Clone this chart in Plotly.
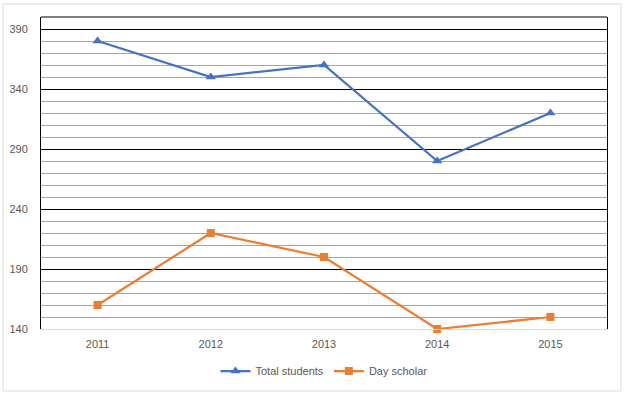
import plotly.graph_objects as go

years = ["2011", "2012", "2013", "2014", "2015"]
total_students = [380, 350, 360, 280, 320]
day_scholar = [160, 220, 200, 140, 150]
y_ticks = [140, 190, 240, 290, 340, 390]

fig = go.Figure()
fig.add_trace(go.Scatter(
    x=years, y=total_students, name="Total students", mode="lines+markers",
    line=dict(color="#4472C4", width=2.25),
    marker=dict(symbol="triangle-up", size=9, color="#4472C4"),
    cliponaxis=False,
))
fig.add_trace(go.Scatter(
    x=years, y=day_scholar, name="Day scholar", mode="lines+markers",
    line=dict(color="#ED7D31", width=2.25),
    marker=dict(symbol="square", size=8, color="#ED7D31"),
    cliponaxis=False,
))

font_family = "Liberation Sans, Arial, sans-serif"

fig.update_layout(
    width=626, height=394,
    margin=dict(l=41, r=19, t=17, b=65, autoexpand=False),
    paper_bgcolor="white", plot_bgcolor="white",
    font=dict(family=font_family, size=11, color="#595959"),
    showlegend=True,
    legend=dict(orientation="h", x=0.5, xanchor="center",
                yref="container", y=(394 - 371) / 394, yanchor="middle",
                font=dict(size=11, color="#595959"), itemwidth=30),
    xaxis=dict(
        type="category", range=[-0.5, 4.5], automargin=False,
        showgrid=False, showline=True, linecolor="#D9D9D9", linewidth=1,
        ticks="", tickfont=dict(size=11, color="#595959"), ticklabelstandoff=5,
        layer="above traces",
    ),
    yaxis=dict(
        range=[140, 400], tickvals=y_ticks, automargin=False,
        showgrid=True, gridcolor="#000000", gridwidth=1,
        minor=dict(dtick=10, tick0=140, showgrid=True, gridcolor="#A6A6A6", gridwidth=1),
        showline=True, mirror=True, linecolor="#000000", linewidth=1,
        ticks="", zeroline=False, tickfont=dict(size=11, color="#595959"),
        ticklabelstandoff=10,
    ),
    shapes=[
        dict(type="line", xref="paper", yref="paper", x0=0, x1=1, y0=1, y1=1,
             line=dict(color="#000000", width=1)),
        dict(type="rect", xref="paper", yref="paper", x0=-0.0671, x1=1.0247,
             y0=-0.1987, y1=1.0417, line=dict(color="#D9D9D9", width=1), layer="below"),
    ],
)

fig.write_html("out.html", config={"displayModeBar": False},
               post_script="document.body.style.margin='0';document.body.style.overflow='hidden';")
